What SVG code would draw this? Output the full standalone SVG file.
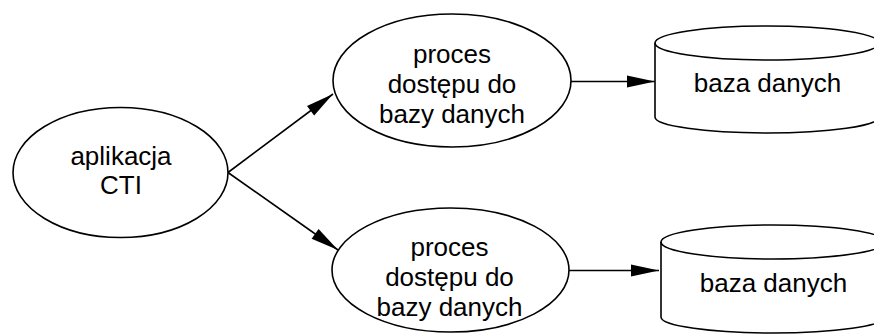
<svg xmlns="http://www.w3.org/2000/svg" width="874" height="334" viewBox="0 0 874 334">
<style>
.shape{fill:#ffffff;stroke:#000000;stroke-width:1.6}
.edge{fill:none;stroke:#000000;stroke-width:1.6}
text{font-family:"Liberation Sans",Arial,sans-serif;font-size:26px;fill:#000000;text-anchor:middle}
</style>
<defs>
<marker id="arrow" markerUnits="userSpaceOnUse" markerWidth="28" markerHeight="12" refX="28" refY="6" orient="auto" overflow="visible">
<path d="M0,0 L28,6 L0,12 z" fill="#000000"/>
</marker>
</defs>
<rect width="874" height="334" fill="#ffffff"/>
<g id="connectors">
<line class="edge" x1="228" y1="172.5" x2="333" y2="94" marker-end="url(#arrow)"/>
<line class="edge" x1="228" y1="172.5" x2="338" y2="250" marker-end="url(#arrow)"/>
<line class="edge" x1="571" y1="81.5" x2="655" y2="81.5" marker-end="url(#arrow)"/>
<line class="edge" x1="569" y1="270.5" x2="659" y2="270.5" marker-end="url(#arrow)"/>
</g>
<g id="cti">
<ellipse class="shape" cx="120.5" cy="172.5" rx="107.5" ry="65"/>
<text x="121" y="165">aplikacja</text>
<text x="121" y="194">CTI</text>
</g>
<g id="proc1">
<ellipse class="shape" cx="452" cy="80.5" rx="119" ry="66.5"/>
<text x="452" y="62.5">proces</text>
<text x="452" y="92.5">dostępu do</text>
<text x="452" y="122.5">bazy danych</text>
</g>
<g id="proc2">
<ellipse class="shape" cx="450.5" cy="270" rx="118.5" ry="62"/>
<text x="449.5" y="256">proces</text>
<text x="449.5" y="285.5">dostępu do</text>
<text x="449.5" y="315.5">bazy danych</text>
</g>
<g id="db1">
<path class="shape" d="M655,43 A112,17 0 0 1 879,43 L879,117 A112,16 0 0 1 655,117 Z"/>
<path class="edge" d="M655,43 A112,17 0 0 0 879,43"/>
<text x="767.5" y="91.5">baza danych</text>
</g>
<g id="db2">
<path class="shape" d="M661,242 A112,17 0 0 1 885,242 L885,317 A112,16 0 0 1 661,317 Z"/>
<path class="edge" d="M661,242 A112,17 0 0 0 885,242"/>
<text x="773.5" y="291.5">baza danych</text>
</g>
</svg>
